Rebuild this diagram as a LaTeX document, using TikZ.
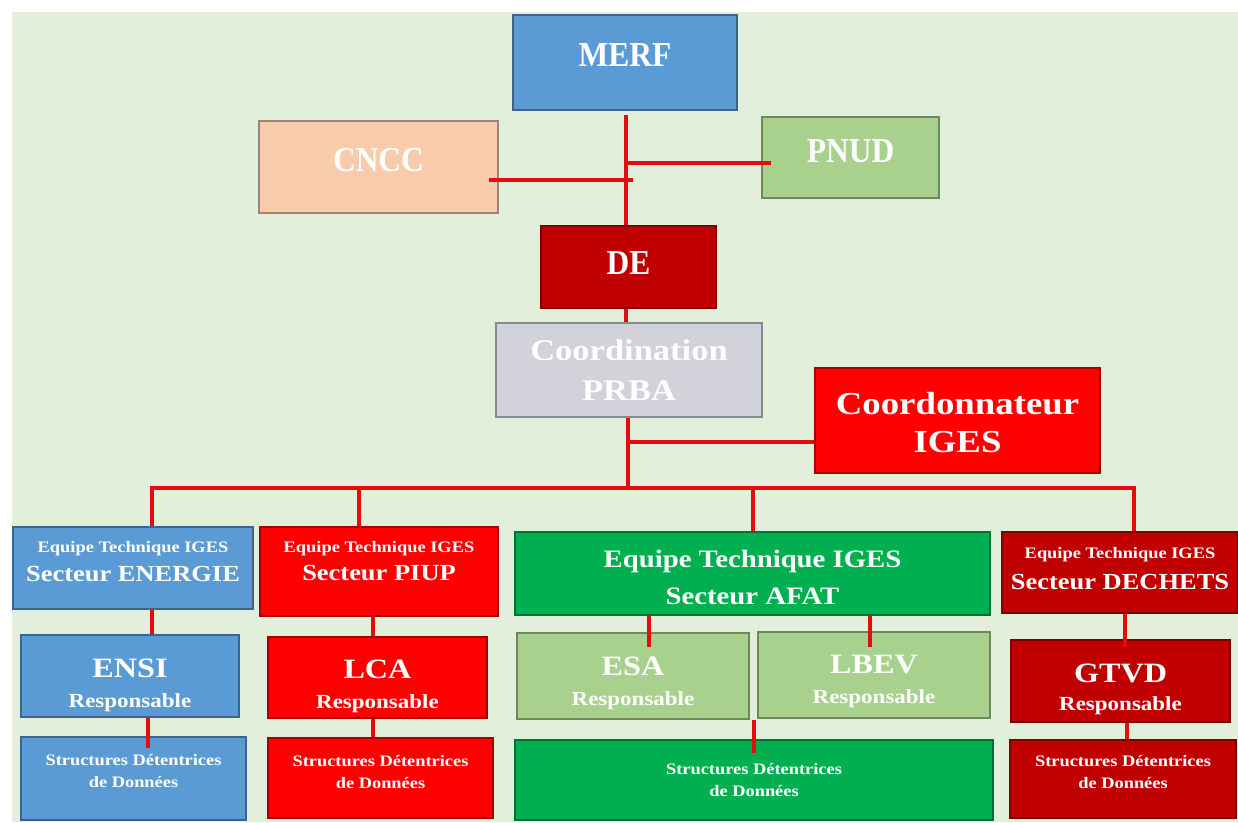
\documentclass[tikz,border=0pt]{standalone}
\usepackage{fontspec}
\setmainfont{Liberation Serif}[FakeStretch=1.15]
\newfontfamily\condfont{Liberation Serif}[FakeStretch=0.9]
\usetikzlibrary{positioning,calc}
\definecolor{bgGreen}{RGB}{226,239,218}
\definecolor{orgBlue}{RGB}{91,155,213}
\definecolor{orgPeach}{RGB}{248,203,173}
\definecolor{orgLime}{RGB}{169,209,142}
\definecolor{orgDark}{RGB}{192,0,0}
\definecolor{orgGray}{RGB}{210,210,218}
\definecolor{orgRed}{RGB}{255,0,0}
\definecolor{orgGreen}{RGB}{0,176,80}
\definecolor{linkRed}{RGB}{228,12,12}
\newcommand{\fsz}[2]{\fontsize{#1}{#2}\selectfont\bfseries}
% invisible struts to move the text inside a box
\newcommand{\txtup}[1]{\rule[-#1]{0pt}{#1}}
\newcommand{\txtdown}[1]{\rule{0pt}{#1}}

\tikzset{
  unit/.style={draw=#1!65!black, fill=#1, line width=1.5pt, text=white,
    align=center, inner sep=0pt},
  head/.style={font=\condfont\fsz{35}{40}},
  link/.style={draw=linkRed, line width=4.5pt},
}

\begin{document}
\begin{tikzpicture}[x=1pt,y=-1pt]
  \useasboundingbox (0,0) rectangle (1238,822);
  \fill[bgGreen] (12,12) rectangle (1238,822);

  % Direction
  \node[unit=orgBlue, minimum width=224pt, minimum height=95pt, head] (MERF) at (625,62.5) {MERF\txtup{15pt}};
  \node[unit=orgPeach, minimum width=239pt, minimum height=92pt, head] (CNCC) at (378.5,167) {CNCC\txtup{14pt}};
  \node[unit=orgLime, minimum width=177pt, minimum height=81pt, head] (PNUD) at (850.5,157.5) {PNUD\txtup{13pt}};
  \node[unit=orgDark, minimum width=175pt, minimum height=82pt, head] (DE) at (628.5,267) {DE\txtup{8pt}};
  \node[unit=orgGray, minimum width=266pt, minimum height=94pt, font=\fsz{30}{40}] (PRBA) at (629,370) {Coordination\\PRBA};
  \node[unit=orgRed, minimum width=285pt, minimum height=105pt, font=\fsz{32}{38}] (COORD) at (957.5,420.5) {\txtdown{27pt}Coordonnateur\\IGES};

  % Equipes techniques
  \node[unit=orgBlue, minimum width=240pt, minimum height=82pt, font=\fsz{23}{29}] (EqEN) at (133,568)
    {{\fsz{16}{20}Equipe Technique IGES}\\Secteur ENERGIE\txtup{14pt}};
  \node[unit=orgRed, minimum width=238pt, minimum height=89pt, font=\fsz{23}{28}] (EqPI) at (379,571.5)
    {{\fsz{16}{20}Equipe Technique IGES}\\Secteur PIUP\txtup{21pt}};
  \node[unit=orgGreen, minimum width=475pt, minimum height=83pt, font=\fsz{25}{37}] (EqAF) at (752.5,573.5)
    {\txtdown{25pt}Equipe Technique IGES\\Secteur AFAT};
  \node[unit=orgDark, minimum width=236pt, minimum height=81pt, font=\fsz{23}{31}] (EqDE) at (1120,572.5)
    {{\fsz{16}{20}Equipe Technique IGES}\\Secteur DECHETS\txtup{8pt}};

  % Responsables
  \node[unit=orgBlue, minimum width=218pt, minimum height=82pt, font=\fsz{20}{30}] (ENSI) at (130,676)
    {\txtdown{37pt}{\fsz{28}{30}ENSI}\\Responsable};
  \node[unit=orgRed, minimum width=219pt, minimum height=81pt, font=\fsz{20}{30}] (LCA) at (377.5,677.5)
    {\txtdown{37pt}{\fsz{28}{30}LCA}\\Responsable};
  \node[unit=orgLime, minimum width=232pt, minimum height=86pt, font=\fsz{20}{30}] (ESA) at (633,676)
    {\txtdown{33pt}{\fsz{28}{30}ESA}\\Responsable};
  \node[unit=orgLime, minimum width=232pt, minimum height=86pt, font=\fsz{20}{30}] (LBEV) at (874,675)
    {\txtdown{31pt}{\fsz{28}{30}LBEV}\\Responsable};
  \node[unit=orgDark, minimum width=219pt, minimum height=82pt, font=\fsz{20}{28}] (GTVD) at (1120.5,681)
    {\txtdown{35pt}{\fsz{28}{30}GTVD}\\Responsable};

  % Structures detentrices
  \node[unit=orgBlue, minimum width=225pt, minimum height=83pt, font=\fsz{16}{22}] (SD1) at (133.5,778.5)
    {Structures Détentrices\\de Données\txtup{15pt}};
  \node[unit=orgRed, minimum width=225pt, minimum height=80pt, font=\fsz{16}{22}] (SD2) at (380.5,778)
    {Structures Détentrices\\de Données\txtup{12pt}};
  \node[unit=orgGreen, minimum width=478pt, minimum height=80pt, font=\fsz{16}{22}] (SD3) at (754,780)
    {Structures Détentrices\\de Données};
  \node[unit=orgDark, minimum width=226pt, minimum height=78pt, font=\fsz{16}{22}] (SD4) at (1123,779)
    {Structures Détentrices\\de Données\txtup{14pt}};

  % Liens hierarchiques
  \coordinate (trunk) at (626,115);
  \draw[link] (trunk) -- (trunk |- DE.north);
  \coordinate (jPNUD) at (628,163);
  \draw[link] (jPNUD) -- ([xshift=10pt]PNUD.west |- jPNUD);
  \coordinate (jCNCC) at (633,180);
  \draw[link] (jCNCC) -- ([xshift=-10pt]CNCC.east |- jCNCC);
  \draw[link] (626,0 |- DE.south) -- (626,0 |- PRBA.north);
  \coordinate (bus) at (628,488);
  \draw[link] (bus |- PRBA.south) -- (bus);
  \coordinate (jCOORD) at (628,442);
  \draw[link] (jCOORD) -- (jCOORD -| COORD.west);

  % Bus vers les secteurs
  \coordinate (busL) at (152,488);
  \coordinate (busR) at (1134,488);
  \draw[link] (busL |- EqEN.north) -- (busL) -- (busR) -- (busR |- EqDE.north);
  \draw[link] (359,488) -- (359,0 |- EqPI.north);
  \draw[link] (753,488) -- (753,0 |- EqAF.north);

  % Liens dans les secteurs
  \draw[link] (152,0 |- EqEN.south) -- (152,0 |- ENSI.north);
  \draw[link] (148,0 |- ENSI.south) -- (148,748);
  \draw[link] (373,0 |- EqPI.south) -- (373,0 |- LCA.north);
  \draw[link] (373,0 |- LCA.south) -- (373,0 |- SD2.north);
  \draw[link] (649,0 |- EqAF.south) -- (649,647);
  \draw[link] (870,0 |- EqAF.south) -- (870,647);
  \draw[link] (754,0 |- ESA.south) -- (754,753);
  \draw[link] (1125,0 |- EqDE.south) -- (1125,647);
  \draw[link] (1127,0 |- GTVD.south) -- (1127,0 |- SD4.north);
\end{tikzpicture}
\end{document}
